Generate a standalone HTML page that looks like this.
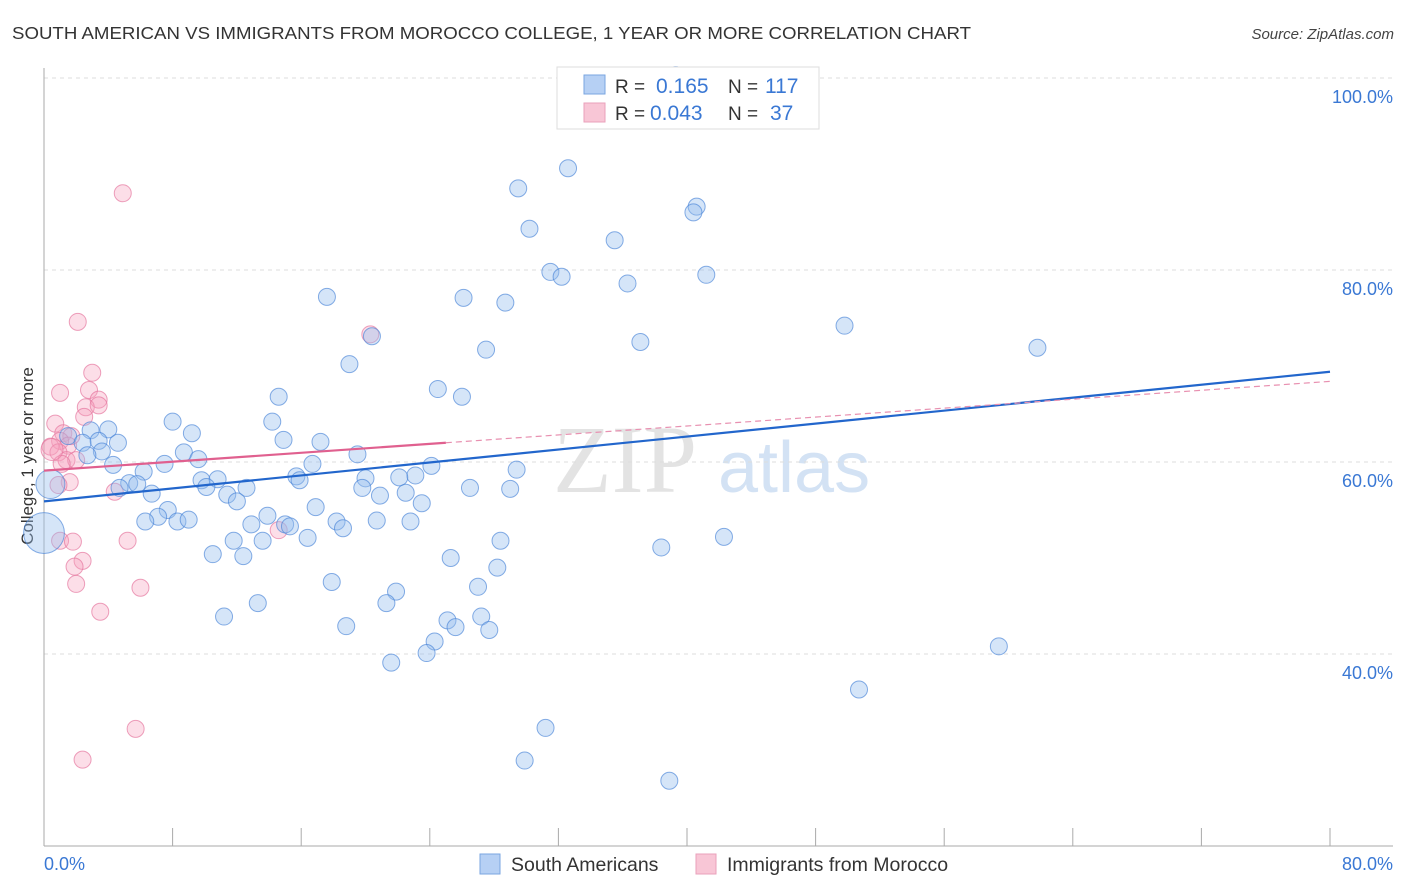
<!DOCTYPE html>
<html><head><meta charset="utf-8"><style>
body{margin:0;background:#fff;font-family:"Liberation Sans",sans-serif;}
svg{display:block}
</style></head><body>
<svg id="chart" width="1406" height="892" xmlns="http://www.w3.org/2000/svg">
<text x="12" y="39" font-size="17.5" fill="#333" textLength="959" lengthAdjust="spacingAndGlyphs">SOUTH AMERICAN VS IMMIGRANTS FROM MOROCCO COLLEGE, 1 YEAR OR MORE CORRELATION CHART</text>
<text x="1394" y="39" font-size="15" fill="#444" text-anchor="end" font-style="italic">Source: ZipAtlas.com</text>
<text transform="translate(33,456) rotate(-90)" font-size="17" fill="#333" text-anchor="middle">College, 1 year or more</text>
<g>
<text x="553" y="492" font-size="96" fill="#ddd" font-family="Liberation Serif,serif" opacity="0.8">ZIP</text>
<text x="718" y="492" font-size="72" fill="#c9dcf2" opacity="0.8">atlas</text>
</g>
<g id="grid"></g>
<g id="axes"></g>
<g id="pts"></g>
<g id="lines"></g>
<g>
<rect x="557" y="67" width="262" height="62" fill="#fff" stroke="#ddd"/>
<rect x="584" y="75" width="21" height="19" fill="#b6d0f4" stroke="#7aa6e0"/>
<rect x="584" y="103" width="21" height="19" fill="#f8c6d6" stroke="#eaa0bb"/>
<text x="615" y="93" font-size="19" fill="#333">R =</text>
<text x="656" y="93" font-size="21" fill="#3a78d4">0.165</text>
<text x="728" y="93" font-size="19" fill="#333">N =</text>
<text x="765" y="93" font-size="21" fill="#3a78d4">117</text>
<text x="615" y="120" font-size="19" fill="#333">R =</text>
<text x="650" y="120" font-size="21" fill="#3a78d4">0.043</text>
<text x="728" y="120" font-size="19" fill="#333">N =</text>
<text x="770" y="120" font-size="21" fill="#3a78d4">37</text>
</g>
<g>
<rect x="480" y="854" width="20" height="20" fill="#b6d0f4" stroke="#7aa6e0"/>
<text x="511" y="871" font-size="19.5" fill="#333">South Americans</text>
<rect x="696" y="854" width="20" height="20" fill="#f8c6d6" stroke="#eaa0bb"/>
<text x="727" y="871" font-size="19.5" fill="#333">Immigrants from Morocco</text>
</g>
</svg>
<script>
const yTicks=[100,80,60,40];
const yTickLabels=["100.0%","80.0%","60.0%","40.0%"];
const xTickCount=10;
const blueX=[32.6,29.5,30.2,35.5,40.6,40.4,31.5,32.2,36.3,41.2,17.6,26.1,28.7,49.8,61.8,20.4,37.1,27.5,19.0,24.5,26.0,14.6,8.0,14.2,9.2,2.9,4.0,1.5,2.4,4.6,3.4,14.9,17.2,8.7,3.6,2.7,19.5,9.6,4.3,16.7,7.5,24.1,29.4,15.7,15.9,23.1,6.2,22.1,20.0,9.8,10.8,12.6,5.3,5.8,4.7,10.1,19.8,26.5,29.0,20.9,22.5,6.7,11.4,12.0,23.5,16.9,7.7,7.1,13.9,20.7,22.8,6.3,8.3,9.0,12.9,15.0,15.3,18.2,18.6,16.4,13.6,11.8,28.4,38.4,42.3,10.5,12.4,25.3,28.2,17.9,27.0,21.9,21.3,13.3,11.2,25.1,27.2,25.6,18.8,27.7,24.3,23.8,21.6,59.4,50.7,31.2,29.9,38.9,35.4,39.3,0.0,0.4];
const blueY=[90.6,88.5,84.3,83.1,86.6,86.0,79.8,79.3,78.6,79.5,77.2,77.1,76.6,74.2,71.9,73.1,72.5,71.7,70.2,67.6,66.8,66.8,64.2,64.2,63.0,63.3,63.4,62.7,62.0,62.0,62.2,62.3,62.1,61.0,61.1,60.7,60.8,60.3,59.7,59.8,59.8,59.6,59.2,58.5,58.1,58.6,59.0,58.4,58.3,58.1,58.2,57.3,57.8,57.7,57.3,57.4,57.3,57.3,57.2,56.5,56.8,56.7,56.6,55.9,55.7,55.3,55.0,54.3,54.4,53.9,53.8,53.8,53.8,54.0,53.5,53.5,53.3,53.8,53.1,52.1,51.8,51.8,51.8,51.1,52.2,50.4,50.2,50.0,49.0,47.5,47.0,46.5,45.3,45.3,43.9,43.5,43.9,42.8,42.9,42.5,41.3,40.1,39.1,40.8,36.3,32.3,28.9,26.8,100.0,100.3,52.6,57.7];
const blueSize=[1,1,1,1,1,1,1,1,1,1,1,1,1,1,1,1,1,1,1,1,1,1,1,1,1,1,1,1,1,1,1,1,1,1,1,1,1,1,1,1,1,1,1,1,1,1,1,1,1,1,1,1,1,1,1,1,1,1,1,1,1,1,1,1,1,1,1,1,1,1,1,1,1,1,1,1,1,1,1,1,1,1,1,1,1,1,1,1,1,1,1,1,1,1,1,1,1,1,1,1,1,1,1,1,1,1,1,1,1,1,2.4,1.7];
const pinkX=[4.9,2.1,20.3,3.0,2.8,1.0,3.4,2.6,3.4,2.5,0.7,1.2,1.7,1.0,0.4,1.5,0.9,1.4,2.0,1.1,1.6,0.9,4.4,1.0,1.8,5.2,2.4,1.9,2.0,6.0,3.5,5.7,2.4,14.6,0.5];
const pinkY=[88.0,74.6,73.3,69.3,67.5,67.2,66.5,65.7,65.9,64.7,64.0,63.0,62.7,62.2,61.6,61.7,61.0,60.2,60.2,59.8,57.9,57.6,56.9,51.8,51.7,51.8,49.7,49.1,47.3,46.9,44.4,32.2,29.0,52.9,61.3];
const blueLine=[55.9,69.4];
const pinkLine=[59.1,68.4];
const pinkSolidEnd=25;
const NS="http://www.w3.org/2000/svg";
const X0=44,X1=1330,YT=78,YB=846;
function sx(v){return X0+(v/80)*(X1-X0);}
function sy(v){return YB-(v-20)/80*(YB-YT);}
function mk(tag,attrs,parent){const e=document.createElementNS(NS,tag);for(const k in attrs)e.setAttribute(k,attrs[k]);parent.appendChild(e);return e;}
const grid=document.getElementById('grid'),axes=document.getElementById('axes'),pts=document.getElementById('pts'),lines=document.getElementById('lines');
yTicks.forEach((t,i)=>{
 const l=mk('line',{x1:X0,x2:1393,y1:sy(t),y2:sy(t),stroke:'#ddd','stroke-dasharray':'4,4'},grid);
 
 
 const tx=mk('text',{x:1393,y:sy(t)+25,'font-size':18,fill:'#3a78d4','text-anchor':'end'},grid);
 tx.textContent=yTickLabels[i];
 
 
});
const ax=mk('line',{x1:X0,x2:X0,y1:68,y2:YB,stroke:'#aaa'},axes);


const bx=mk('line',{x1:X0,x2:1393,y1:YB,y2:YB,stroke:'#aaa'},axes);


for(let i=1;i<=xTickCount;i++){
 const t=mk('line',{x1:sx(i*8),x2:sx(i*8),y1:YB,y2:YB-18,stroke:'#aaa'},axes);
 
 
}
const xl=mk('text',{x:44,y:870,'font-size':18,fill:'#3a78d4'},axes);xl.textContent='0.0%';


const xr=mk('text',{x:1393,y:870,'font-size':18,fill:'#3a78d4','text-anchor':'end'},axes);xr.textContent='80.0%';


pinkX.forEach((v,i)=>{
 const c=mk('circle',{cx:sx(v),cy:sy(pinkY[i]),r:i==pinkX.length-1?11:8.5,fill:'rgba(245,160,190,0.35)',stroke:'rgba(230,120,160,0.7)','stroke-width':1},pts);
 
 
});
blueX.forEach((v,i)=>{
 const c=mk('circle',{cx:sx(v),cy:sy(blueY[i]),r:8.5*blueSize[i],fill:'rgba(150,190,238,0.4)',stroke:'rgba(70,130,215,0.65)','stroke-width':1},pts);
 
 
});
const bl=mk('line',{x1:sx(0),y1:sy(blueLine[0]),x2:sx(80),y2:sy(blueLine[1]),stroke:'#2266cc','stroke-width':2.2},lines);


const pAt=x=>pinkLine[0]+(pinkLine[1]-pinkLine[0])*x/80;
const pd=mk('line',{x1:sx(pinkSolidEnd),y1:sy(pAt(pinkSolidEnd)),x2:sx(80),y2:sy(pinkLine[1]),stroke:'#e890b0','stroke-width':1.2,'stroke-dasharray':'6,4'},lines);


const ps=mk('line',{x1:sx(0),y1:sy(pinkLine[0]),x2:sx(pinkSolidEnd),y2:sy(pAt(pinkSolidEnd)),stroke:'#e0608f','stroke-width':2.2},lines);


</script>
</body></html>
